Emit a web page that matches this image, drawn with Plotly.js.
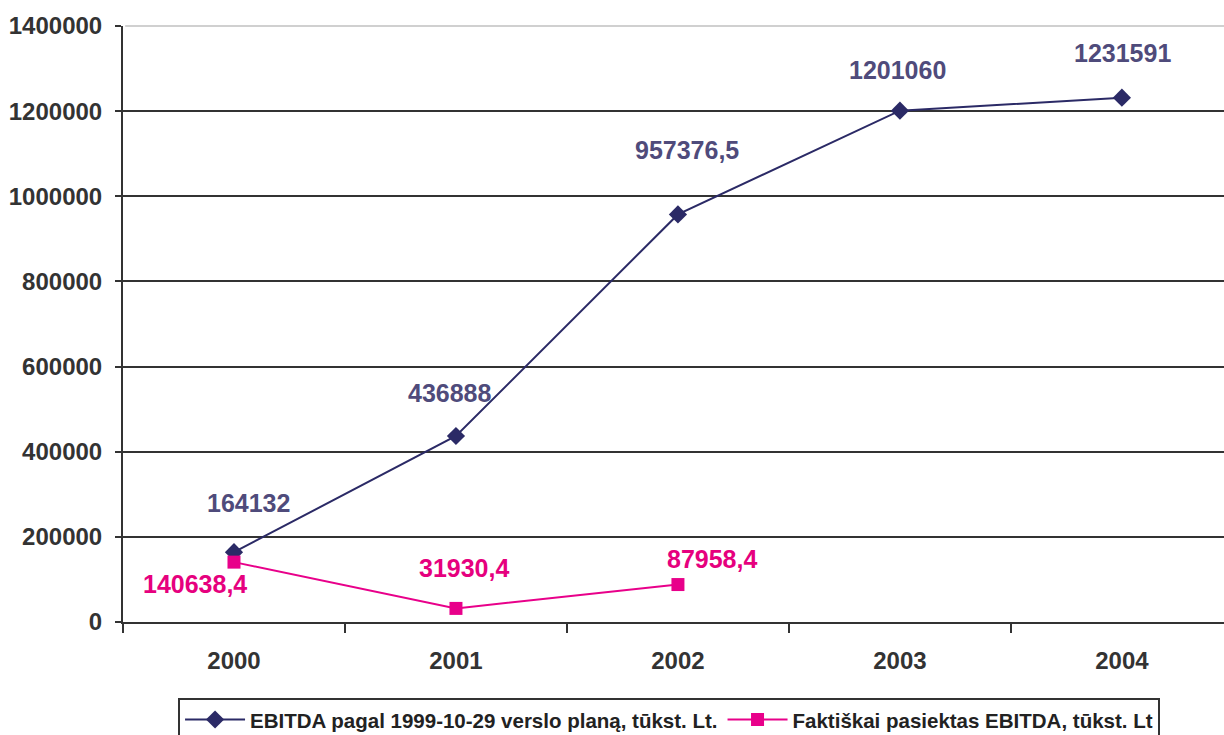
<!DOCTYPE html>
<html><head><meta charset="utf-8">
<script src="https://cdn.plot.ly/plotly-3.0.1.min.js"></script>
<style>html,body{margin:0;padding:0;background:#fff}#chart{width:1224px;height:735px}</style>
</head><body><div id="chart"></div>
<script>
const years = [2000, 2001, 2002, 2003, 2004];
const planValues = [164132, 436888, 957376.5, 1201060, 1231591];
const actualYears = [2000, 2001, 2002];
const actualValues = [140638.4, 31930.4, 87958.4];
const planLabels = ["164132", "436888", "957376,5", "1201060", "1231591"];
const actualLabels = ["140638,4", "31930,4", "87958,4"];
const yearLabels = ["2000", "2001", "2002", "2003", "2004"];
const yTicks = [0, 200000, 400000, 600000, 800000, 1000000, 1200000, 1400000];
const planName = "EBITDA pagal 1999-10-29 verslo planą, tūkst. Lt.";
const actualName = "Faktiškai pasiektas EBITDA, tūkst. Lt";

const planColor = "#2b2a66", planText = "#4f4b7b";
const actColor = "#e8008a", actText = "#e6007e";
const font = "Liberation Sans, Arial, sans-serif";

const planShift = [[15, 49], [-6, 43], [9, 64], [-2, 41], [1, 45]];
const actShift = [[-39, -22], [8, 40], [34, 26]];

const annotations = [];
planValues.forEach((v, i) => annotations.push({
  x: years[i], y: v, xref: "x", yref: "y", text: "<b>" + planLabels[i] + "</b>",
  showarrow: false, xshift: planShift[i][0], yshift: planShift[i][1],
  xanchor: "center", yanchor: "middle",
  font: {family: font, size: 25, color: planText}
}));
actualValues.forEach((v, i) => annotations.push({
  x: actualYears[i], y: v, xref: "x", yref: "y", text: "<b>" + actualLabels[i] + "</b>",
  showarrow: false, xshift: actShift[i][0], yshift: actShift[i][1],
  xanchor: "center", yanchor: "middle",
  font: {family: font, size: 25, color: actText}
}));

const boundaries = [];
for (let i = 0; i <= years.length; i++) boundaries.push(years[0] - 0.5 + i);

const traces = [
  {x: years, y: planValues, name: planName, type: "scatter", mode: "lines+markers",
   line: {color: planColor, width: 2}, marker: {symbol: "diamond", size: 14, color: planColor}},
  {x: actualYears, y: actualValues, name: actualName, type: "scatter", mode: "lines+markers",
   line: {color: actColor, width: 2}, marker: {symbol: "square", size: 13, color: actColor}}
];

const layout = {
  width: 1224, height: 735,
  margin: {l: 123, r: 0, t: 26, b: 113, autoexpand: false},
  paper_bgcolor: "#fff", plot_bgcolor: "#fff",
  font: {family: font, color: "#333"},
  xaxis: {type: "linear", range: [1999.5, 2004.46], tickvals: years, ticktext: yearLabels,
          ticks: "", ticklabelstandoff: 16, showline: true, linecolor: "#333", linewidth: 2,
          showgrid: false, zeroline: false,
          minor: {tickvals: boundaries, ticks: "outside", ticklen: 9, tickwidth: 2, tickcolor: "#333", showgrid: false},
          tickfont: {family: font, size: 24, color: "#333", weight: "bold"},
          automargin: false},
  yaxis: {range: [0, 1400000], tickvals: yTicks, ticktext: yTicks.map(String), ticks: "outside",
          ticklen: 6, tickwidth: 2, tickcolor: "#333", showline: true, linecolor: "#333", linewidth: 2,
          gridcolor: "#333", gridwidth: 2, zeroline: false, ticklabelstandoff: 8,
          tickfont: {family: font, size: 24, color: "#333", weight: "bold"}, automargin: false},
  shapes: [{type: "line", xref: "paper", yref: "paper", x0: 0.002, x1: 1, y0: 1, y1: 1,
            line: {color: "#d0d0d0", width: 2}, layer: "above"}],
  annotations: annotations,
  showlegend: true,
  legend: {orientation: "h", x: 0.05, xanchor: "left", y: -0.127, yanchor: "top",
           bordercolor: "#333", borderwidth: 2, bgcolor: "#fff",
           font: {family: font, size: 20.5, color: "#222", weight: "bold"},
           itemwidth: 60, tracegroupgap: 0}
};

Plotly.newPlot("chart", traces, layout, {displayModeBar: false, staticPlot: true});
</script></body></html>
